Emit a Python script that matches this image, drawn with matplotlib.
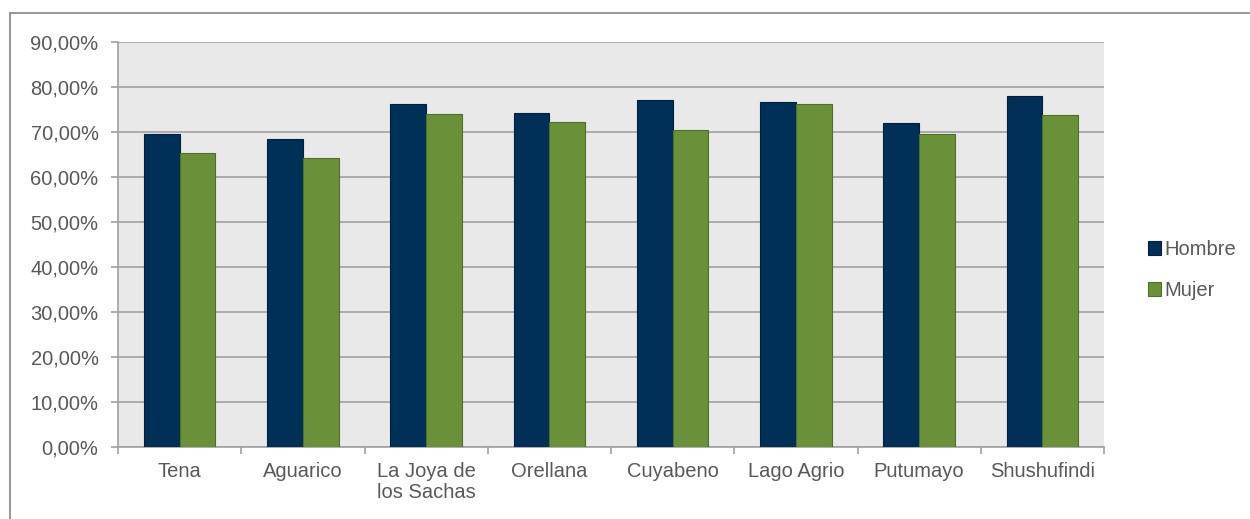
import numpy as np
import matplotlib.pyplot as plt
from matplotlib.ticker import FuncFormatter, FixedLocator
from matplotlib.patches import Rectangle

plt.rcParams['font.family'] = ['Liberation Sans', 'DejaVu Sans']

# data
cantones = ["Tena", "Aguarico", "La Joya de\nlos Sachas", "Orellana",
            "Cuyabeno", "Lago Agrio", "Putumayo", "Shushufindi"]
hombre = [69.5, 68.4, 76.2, 74.3, 77.1, 76.7, 72.1, 77.9]
mujer = [65.3, 64.2, 73.9, 72.2, 70.4, 76.2, 69.5, 73.8]

c_h = "#003057"
c_m = "#6A913A"
txt = "#595959"
grid_c = "#A0A0A0"
fs = 14.5

fig = plt.figure(figsize=(12.5, 5.19), dpi=100)
ax = fig.add_axes([118/1250, 1 - 447/519, (1104 - 118)/1250, (447 - 42)/519])
ax.set_facecolor("#E8E9E8")

x = np.arange(len(cantones))
w = 0.29
ax.bar(x - w/2, hombre, w, color=c_h, edgecolor="#00203F", linewidth=0.8,
       label="Hombre", zorder=3)
ax.bar(x + w/2, mujer, w, color=c_m, edgecolor="#4E6E2A", linewidth=0.8,
       label="Mujer", zorder=3)

ax.set_xlim(-0.5, len(cantones) - 0.5)
ax.set_ylim(0, 90)
ax.set_yticks(np.arange(0, 91, 10))
ax.yaxis.set_major_formatter(FuncFormatter(lambda v, p: f"{v:.2f}%".replace(".", ",")))
ax.yaxis.grid(True, color=grid_c, linewidth=1.2, zorder=0)

ax.set_xticks(x)
ax.set_xticklabels(cantones, linespacing=1.1)
ax.xaxis.set_minor_locator(FixedLocator(np.arange(-0.5, len(cantones), 1)))
ax.tick_params(axis="x", which="major", length=0, pad=11, labelsize=fs, labelcolor=txt)
ax.tick_params(axis="x", which="minor", length=5, color=grid_c, width=1.2)
ax.tick_params(axis="y", length=5, color=grid_c, width=1.2, labelsize=fs,
               labelcolor=txt, pad=9)

for s in ["top", "right"]:
    ax.spines[s].set_visible(False)
for s in ["left", "bottom"]:
    ax.spines[s].set_color(grid_c)
    ax.spines[s].set_linewidth(1.2)

leg = ax.legend(loc="center left", bbox_to_anchor=(1138/1250, 1 - 270/519),
                bbox_transform=fig.transFigure, frameon=False, fontsize=fs,
                handlelength=0.65, handleheight=0.65, handletextpad=0.15,
                labelspacing=1.1, labelcolor=txt, borderpad=0)

# outer border of the chart object
fig.patches.append(Rectangle((10/1250, -0.01), 1.01, 1 - 13/519 + 0.01,
                             transform=fig.transFigure, fill=False,
                             edgecolor="#9A9A9A", linewidth=1.5))

fig.savefig("out.png", dpi=100)
